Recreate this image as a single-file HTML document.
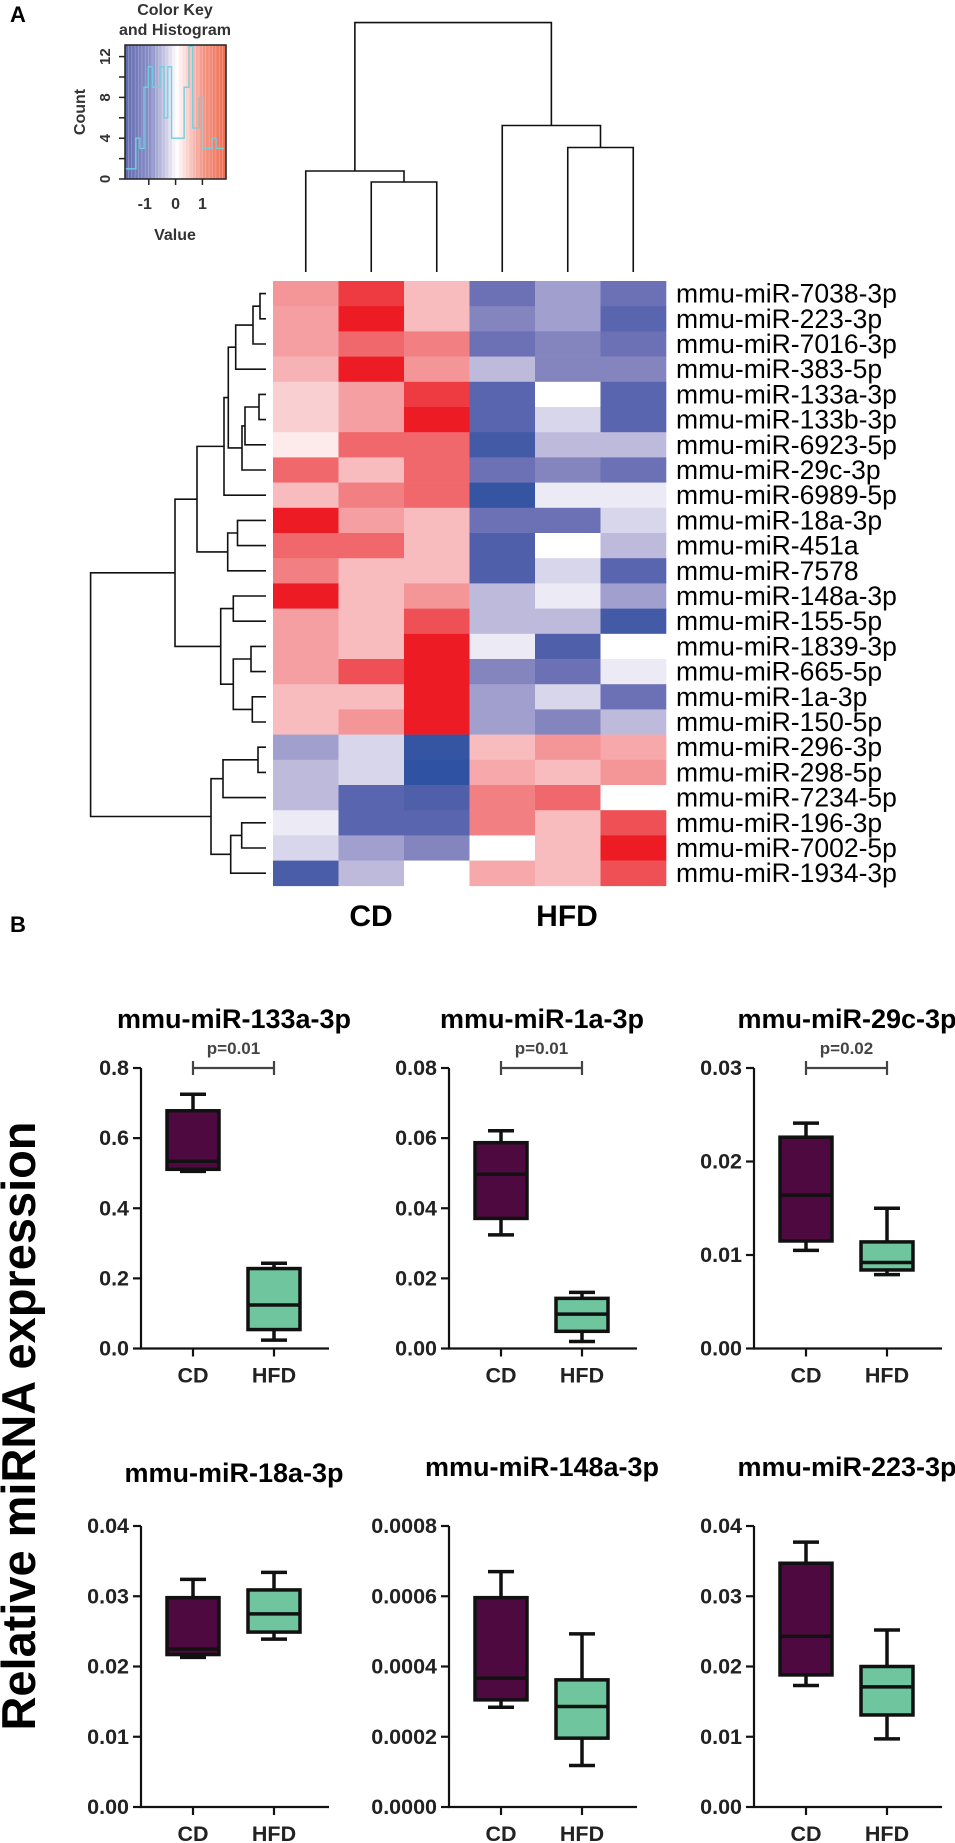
<!DOCTYPE html>
<html><head><meta charset="utf-8"><style>
html,body{margin:0;padding:0;background:#fff;}
svg{display:block;font-family:"Liberation Sans",Arial,sans-serif;}
</style></head><body>
<svg id="fig" width="955" height="1843" viewBox="0 0 955 1843" xmlns="http://www.w3.org/2000/svg">
<text x="10" y="22" font-size="22" font-weight="bold">A</text>
<text x="10" y="932" font-size="22" font-weight="bold">B</text>
<text x="175" y="15" font-size="16" font-weight="bold" text-anchor="middle" fill="#333">Color Key</text>
<text x="175" y="35" font-size="16" font-weight="bold" text-anchor="middle" fill="#333">and Histogram</text>
<g id="key"></g>
<g id="coldendro" stroke="#111" stroke-width="1.6" fill="none"></g>
<g id="rowdendro" stroke="#111" stroke-width="1.6" fill="none"></g>
<g id="heat"></g>
<text x="371" y="926" font-size="30" font-weight="bold" text-anchor="middle">CD</text>
<text x="567" y="926" font-size="30" font-weight="bold" text-anchor="middle">HFD</text>
<text transform="translate(35,1426) rotate(-90)" font-size="47" font-weight="bold" text-anchor="middle" textLength="609" lengthAdjust="spacingAndGlyphs">Relative miRNA expression</text>
<g id="boxes"></g>
</svg>
<script>
const NS='http://www.w3.org/2000/svg';
function mk(tag,attrs,parent){const e=document.createElementNS(NS,tag);for(const k in attrs)e.setAttribute(k,attrs[k]);parent.appendChild(e);return e;}

// ---------- heatmap data ----------
const rowLabels=['mmu-miR-7038-3p','mmu-miR-223-3p','mmu-miR-7016-3p','mmu-miR-383-5p','mmu-miR-133a-3p','mmu-miR-133b-3p','mmu-miR-6923-5p','mmu-miR-29c-3p','mmu-miR-6989-5p','mmu-miR-18a-3p','mmu-miR-451a','mmu-miR-7578','mmu-miR-148a-3p','mmu-miR-155-5p','mmu-miR-1839-3p','mmu-miR-665-5p','mmu-miR-1a-3p','mmu-miR-150-5p','mmu-miR-296-3p','mmu-miR-298-5p','mmu-miR-7234-5p','mmu-miR-196-3p','mmu-miR-7002-5p','mmu-miR-1934-3p'];
const heatValues=[
[0.9,1.7,0.5,-1.1,-0.7,-1.1],
[0.8,2,0.5,-0.9,-0.7,-1.3],
[0.8,1.3,1.1,-1.1,-0.9,-1.1],
[0.6,2,0.9,-0.5,-0.9,-0.9],
[0.35,0.8,1.7,-1.3,0,-1.3],
[0.35,0.8,2,-1.3,-0.3,-1.3],
[0.15,1.3,1.3,-1.6,-0.5,-0.5],
[1.3,0.5,1.3,-1.1,-0.9,-1.1],
[0.5,1.1,1.3,-1.8,-0.15,-0.15],
[2,0.8,0.5,-1.1,-1.1,-0.3],
[1.3,1.3,0.5,-1.4,0,-0.5],
[1.1,0.5,0.5,-1.4,-0.3,-1.3],
[2,0.5,0.9,-0.5,-0.15,-0.7],
[0.8,0.5,1.5,-0.5,-0.5,-1.6],
[0.8,0.5,2,-0.15,-1.4,0],
[0.8,1.5,2,-0.9,-1.1,-0.15],
[0.5,0.5,2,-0.7,-0.3,-1.1],
[0.5,0.9,2,-0.7,-0.9,-0.5],
[-0.7,-0.3,-1.8,0.5,0.9,0.7],
[-0.5,-0.3,-1.9,0.7,0.5,0.9],
[-0.5,-1.3,-1.4,1.1,1.3,0],
[-0.15,-1.3,-1.3,1.1,0.5,1.5],
[-0.3,-0.7,-0.9,0,0.5,2],
[-1.5,-0.5,0,0.7,0.5,1.5]];
const histBreaks=[-1.89,-1.48,-1.33,-1.18,-1.02,-0.87,-0.58,-0.43,-0.29,-0.15,0.32,0.50,0.64,0.88,1.03,1.35,1.51,1.81];
const histCounts=[1,4,3,9,11,9,11,6,11,4,9,13,5,8,3,4,3];
const keyTicks=[-1,0,1];
const countTicks=[0,4,8,12];
// dendrogram merge structures: [left,right,height]
const tA1=[[[0,1,260],2,253],3,235.7];
const tA2=[[[4,5,259],6,245],7,242];
const tB=[[tA1,tA2,228.3],8,224];
const tC=[[9,10,237.5],11,227.7];
const tD=[tB,tC,197];
const tE=[[12,13,233.3],[[14,15,251],[16,17,252.3],233.3],220.7];
const tF=[tD,tE,175];
const tG=[[[18,19,258],20,223],[[21,22,241.7],23,230.7],211];
const rowTree=[tF,tG,90.6];
const colTree=[[0,[1,2,182],171],[3,[4,5,147.5],125.5],22.6];

const stops=[[-2,[40,80,160]],[-1.4,[80,95,170]],[-1,[118,118,184]],[-0.5,[190,186,220]],[0,[255,255,255]],[0.5,[248,187,190]],[1,[243,140,143]],[1.5,[238,80,85]],[2,[237,28,36]]];
const keyStops=[[-2,[95,105,175]],[-1,[140,145,200]],[-0.4,[205,205,230]],[0,[255,255,255]],[0.5,[250,200,195]],[1,[245,150,135]],[2,[238,105,75]]];
function interp(st,v){v=Math.max(-2,Math.min(2,v));for(let i=0;i<st.length-1;i++){const a=st[i],b=st[i+1];if(v<=b[0]){const t=(v-a[0])/(b[0]-a[0]);const c=a[1].map((x,j)=>Math.round(x+(b[1][j]-x)*t));return 'rgb('+c.join(',')+')';}}const l=st[st.length-1][1];return 'rgb('+l.join(',')+')';}
const col=v=>interp(stops,v);

const HX=273,HY=281,CW=65.5,RH=25.2;
const heat=document.getElementById('heat');
heatValues.forEach((row,i)=>{row.forEach((v,j)=>{
  const r=mk('rect',{x:HX+j*CW,y:HY+i*RH,width:CW+0.3,height:RH+0.3,fill:col(v)},heat);
  
  
});
  const t=mk('text',{x:676,y:HY+i*RH+RH/2+9,'font-size':26.5},heat);
  t.textContent=rowLabels[i];
  
  
});

// row dendrogram
const rd=document.getElementById('rowdendro');
function drawRow(n){ if(typeof n==='number')return {y:HY+(n+0.5)*RH,x:266};
  const a=drawRow(n[0]),b=drawRow(n[1]),x=n[2];
  mk('path',{d:`M${a.x},${a.y}H${x}V${b.y}H${b.x}`},rd);
  return {y:(a.y+b.y)/2,x:x};}
drawRow(rowTree);
// column dendrogram
const cd=document.getElementById('coldendro');
function drawCol(n){ if(typeof n==='number')return {x:HX+(n+0.5)*CW,y:272};
  const a=drawCol(n[0]),b=drawCol(n[1]),y=n[2];
  mk('path',{d:`M${a.x},${a.y}V${y}H${b.x}V${b.y}`},cd);
  return {x:(a.x+b.x)/2,y:y};}
drawCol(colTree);

// color key
const key=document.getElementById('key');
const KX0=125,KX1=226,KY0=45,KY1=179;
const kx=v=>175.6+v*26.8, ky=c=>179-c*10.2;
for(let i=0;i<30;i++){const v=-1.89+(i+0.5)*(3.7/30);
  mk('rect',{x:KX0+i*(KX1-KX0)/30,y:KY0,width:(KX1-KX0)/30+0.4,height:KY1-KY0,fill:interp(keyStops,v*1.05)},key);}
for(let i=0;i<30;i++) mk('line',{x1:KX0+i*(KX1-KX0)/30,x2:KX0+i*(KX1-KX0)/30,y1:KY0,y2:KY1,stroke:'#fff','stroke-opacity':0.35,'stroke-width':0.6},key);
let hp=`M${kx(histBreaks[0])},${ky(histCounts[0])}`;
histCounts.forEach((c,i)=>{hp+=`V${ky(c)}H${kx(histBreaks[i+1])}`;});
const hist=mk('path',{d:hp,fill:'none',stroke:'#6fd0e0','stroke-width':1.3},key);


mk('rect',{x:KX0,y:KY0,width:KX1-KX0,height:KY1-KY0,fill:'none',stroke:'#222','stroke-width':1.5},key);
for(let c=0;c<=12;c+=2) mk('line',{x1:KX0,x2:KX0-6,y1:ky(c),y2:ky(c),stroke:'#222','stroke-width':1.5},key);
countTicks.forEach(c=>{const t=mk('text',{transform:`translate(110,${ky(c)}) rotate(-90)`,'font-size':15,'font-weight':'bold','text-anchor':'middle',fill:'#333'},key);t.textContent=c;});
keyTicks.forEach(v=>{mk('line',{x1:kx(v),x2:kx(v),y1:KY1,y2:KY1+6,stroke:'#222','stroke-width':1.5},key);
  const t=mk('text',{x:kx(v)-(v<0?4:0),y:209,'font-size':16,'font-weight':'bold','text-anchor':'middle',fill:'#333'},key);t.textContent=v;});
let t1=mk('text',{transform:'translate(85,112) rotate(-90)','font-size':16,'font-weight':'bold','text-anchor':'middle',fill:'#333'},key);t1.textContent='Count';
let t2=mk('text',{x:175,y:240,'font-size':16,'font-weight':'bold','text-anchor':'middle',fill:'#333'},key);t2.textContent='Value';

// ---------- box plots ----------
const panelTitles=['mmu-miR-133a-3p','mmu-miR-1a-3p','mmu-miR-29c-3p','mmu-miR-18a-3p','mmu-miR-148a-3p','mmu-miR-223-3p'];
const yMax=[0.8,0.08,0.03,0.04,0.0008,0.04];
const yTicks=[['0.0','0.2','0.4','0.6','0.8'],['0.00','0.02','0.04','0.06','0.08'],['0.00','0.01','0.02','0.03'],['0.00','0.01','0.02','0.03','0.04'],['0.0000','0.0002','0.0004','0.0006','0.0008'],['0.00','0.01','0.02','0.03','0.04']];
// [min,q1,median,q3,max]
const cdStats=[[0.505,0.511,0.534,0.678,0.725],[0.0324,0.0371,0.0497,0.0587,0.0621],[0.0105,0.0115,0.0164,0.0226,0.0241],[0.0213,0.0217,0.0225,0.0298,0.0324],[0.000284,0.000305,0.000367,0.000596,0.00067],[0.0173,0.0188,0.0243,0.0347,0.0377]];
const hfdStats=[[0.024,0.054,0.124,0.228,0.243],[0.002,0.0049,0.0098,0.0143,0.016],[0.0079,0.0084,0.0092,0.0114,0.015],[0.0239,0.0249,0.0275,0.0309,0.0334],[0.000118,0.000196,0.000286,0.000362,0.000493],[0.0097,0.0131,0.0171,0.02,0.0252]];
const pValues=['p=0.01','p=0.01','p=0.02',null,null,null];
const groups=['CD','HFD'];

const boxes=document.getElementById('boxes');
const axX=[141,449,754], axTop=[1068,1526], axBot=[1348.5,1807];
const titleY=[[1028,1028,1028],[1482,1476,1476]];
for(let p=0;p<6;p++){
  const r=Math.floor(p/3),c=p%3,X=axX[c],top=axTop[r],bot=axBot[r];
  const g=mk('g',{},boxes);
  
  
  const y=v=>bot-(v/yMax[p])*(bot-top);
  const gx=[X+52,X+133];
  const tt=mk('text',{x:X+93,y:titleY[r][c],'font-size':27,'font-weight':'bold','text-anchor':'middle'},g);tt.textContent=panelTitles[p];
  
  
  mk('path',{d:`M${X},${top}V${bot}H${X+188}`,stroke:'#111','stroke-width':2.2,fill:'none'},g);
  yTicks[p].forEach((lab,i)=>{const yy=y(yMax[p]*i/(yTicks[p].length-1));
    mk('line',{x1:X,x2:X-8,y1:yy,y2:yy,stroke:'#111','stroke-width':2.2},g);
    const t=mk('text',{x:X-12,y:yy+7,'font-size':21.5,'font-weight':'bold','text-anchor':'end',fill:'#222'},g);t.textContent=lab;});
  groups.forEach((gn,i)=>{mk('line',{x1:gx[i],x2:gx[i],y1:bot,y2:bot+8,stroke:'#111','stroke-width':2.2},g);
    const t=mk('text',{x:gx[i],y:bot+34,'font-size':21.5,'font-weight':'bold','text-anchor':'middle',fill:'#222'},g);t.textContent=gn;});
  [cdStats[p],hfdStats[p]].forEach((s,i)=>{const cx=gx[i],w=52,fill=i===0?'#4e0a40':'#6ec59e';
    const b=mk('g',{stroke:'#111','stroke-width':3.5,fill:'none'},g);
    
    
    mk('line',{x1:cx,x2:cx,y1:y(s[0]),y2:y(s[4])},b);
    mk('line',{x1:cx-13,x2:cx+13,y1:y(s[0]),y2:y(s[0])},b);
    mk('line',{x1:cx-13,x2:cx+13,y1:y(s[4]),y2:y(s[4])},b);
    mk('rect',{x:cx-w/2,y:y(s[3]),width:w,height:y(s[1])-y(s[3]),fill:fill},b);
    mk('line',{x1:cx-w/2,x2:cx+w/2,y1:y(s[2]),y2:y(s[2])},b);});
  if(pValues[p]){const pb=mk('path',{d:`M${gx[0]},${top-7}V${top+7}M${gx[0]},${top}H${gx[1]}M${gx[1]},${top-7}V${top+7}`,stroke:'#444','stroke-width':2.2,fill:'none'},g);
    
    
    const t=mk('text',{x:(gx[0]+gx[1])/2,y:top-14,'font-size':17,'font-weight':'bold','text-anchor':'middle',fill:'#444'},g);t.textContent=pValues[p];}
}
</script>
</body></html>
